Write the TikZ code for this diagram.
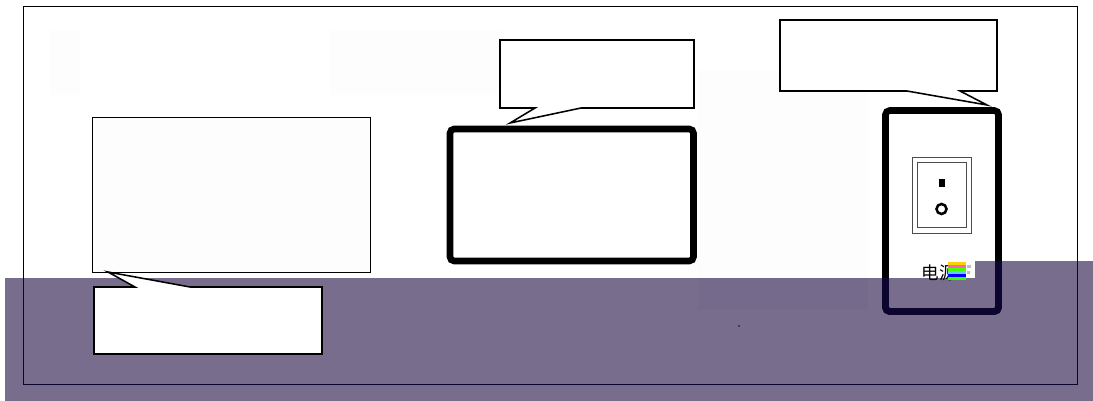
\documentclass[tikz,border=0pt]{standalone}
\usepackage{fontspec}
\newfontfamily\cjk{Noto Sans CJK SC}
\definecolor{PanelPurple}{RGB}{120,109,141}
\definecolor{InkNavy}{RGB}{12,5,48}
\definecolor{FaintGray}{RGB}{253,253,253}
\tikzset{
  thinbox/.style={draw=black, line width=0.55pt},
  calloutbox/.style={draw=black, fill=white, line width=1.1pt, line join=miter},
  heavybox/.style={line width=4.7pt, rounded corners=3pt}
}
% outlines that run across the purple band too
\newcommand{\crossinglines}{
  \draw[line width=0.55pt] (23,6) rectangle (1077,384);
  \draw[heavybox] (885.5,110.5) rectangle (998.5,311.5);
}
\begin{document}
\begin{tikzpicture}[x=0.025cm, y=-0.025cm]

  % Page
  \useasboundingbox (0,0) rectangle (1093,401);
  \fill[white] (0,0) rectangle (1093,401);

  % Faint patches
  \fill[FaintGray] (50,30) rectangle (80,95);
  \fill[FaintGray] (330,30) rectangle (500,95);
  \fill[FaintGray] (698,70) rectangle (868,278);

  % Purple band
  \fill[PanelPurple]
        (5,278) -- (975,278) -- (975,261) -- (1093,261)
        -- (1093,401) -- (5,401) -- cycle;
  \fill[InkNavy, opacity=0.02] (698,278) rectangle (868,310);
  \fill[InkNavy] (739,326) circle (0.8);

  % Outer frame and power panel
  \crossinglines
  \begin{scope}
    \clip (5,278) -- (975,278) -- (975,261) -- (1093,261)
          -- (1093,401) -- (5,401) -- cycle;
    \begin{scope}[color=InkNavy]
      \crossinglines
    \end{scope}
  \end{scope}

  % Left panel and its callout
  \draw[thinbox, fill=FaintGray] (92,117.5) rectangle (370,272);
  \draw[calloutbox]
        (94,287) -- (135,287) -- (108,272) -- (190,287)
        -- (322,287) -- (322,354) -- (94,354) -- cycle;

  % Middle panel and its callout
  \draw[heavybox] (450,129) rectangle (693.5,261);
  \draw[calloutbox]
        (500,40) -- (694,40) -- (694,108) -- (581,108)
        -- (510,123) -- (535,108) -- (500,108) -- cycle;

  % Right callout
  \draw[calloutbox]
        (780,20) -- (997,20) -- (997,91) -- (960,91)
        -- (987,105) -- (907,91) -- (780,91) -- cycle;

  % Switch
  \draw[black!70, line width=0.6pt] (912,157) rectangle (971,233);
  \draw[black!70, line width=0.6pt] (917,162) rectangle (966,227);
  \fill (939,179) rectangle (945,187);
  \draw[line width=1.8pt] (941.5,209) circle (5);

  % Label
  \node[text=black, inner sep=0pt, font=\cjk\fontsize{12.5}{13}\selectfont]
        (powerlabel) at (939,273) {电源};

  % Colour noise on the label
  \foreach \ytop/\bandcolor in {262/yellow!70!orange, 265/magenta!60,
      268/green!70!yellow, 271/blue!35!cyan!60, 274/blue, 277/green!80!yellow}
    \fill[\bandcolor] (948,\ytop) rectangle (966,\ytop+3);
  \fill[gray!50] (967,265) rectangle (971,268) (967,271) rectangle (970,274);

\end{tikzpicture}
\end{document}
